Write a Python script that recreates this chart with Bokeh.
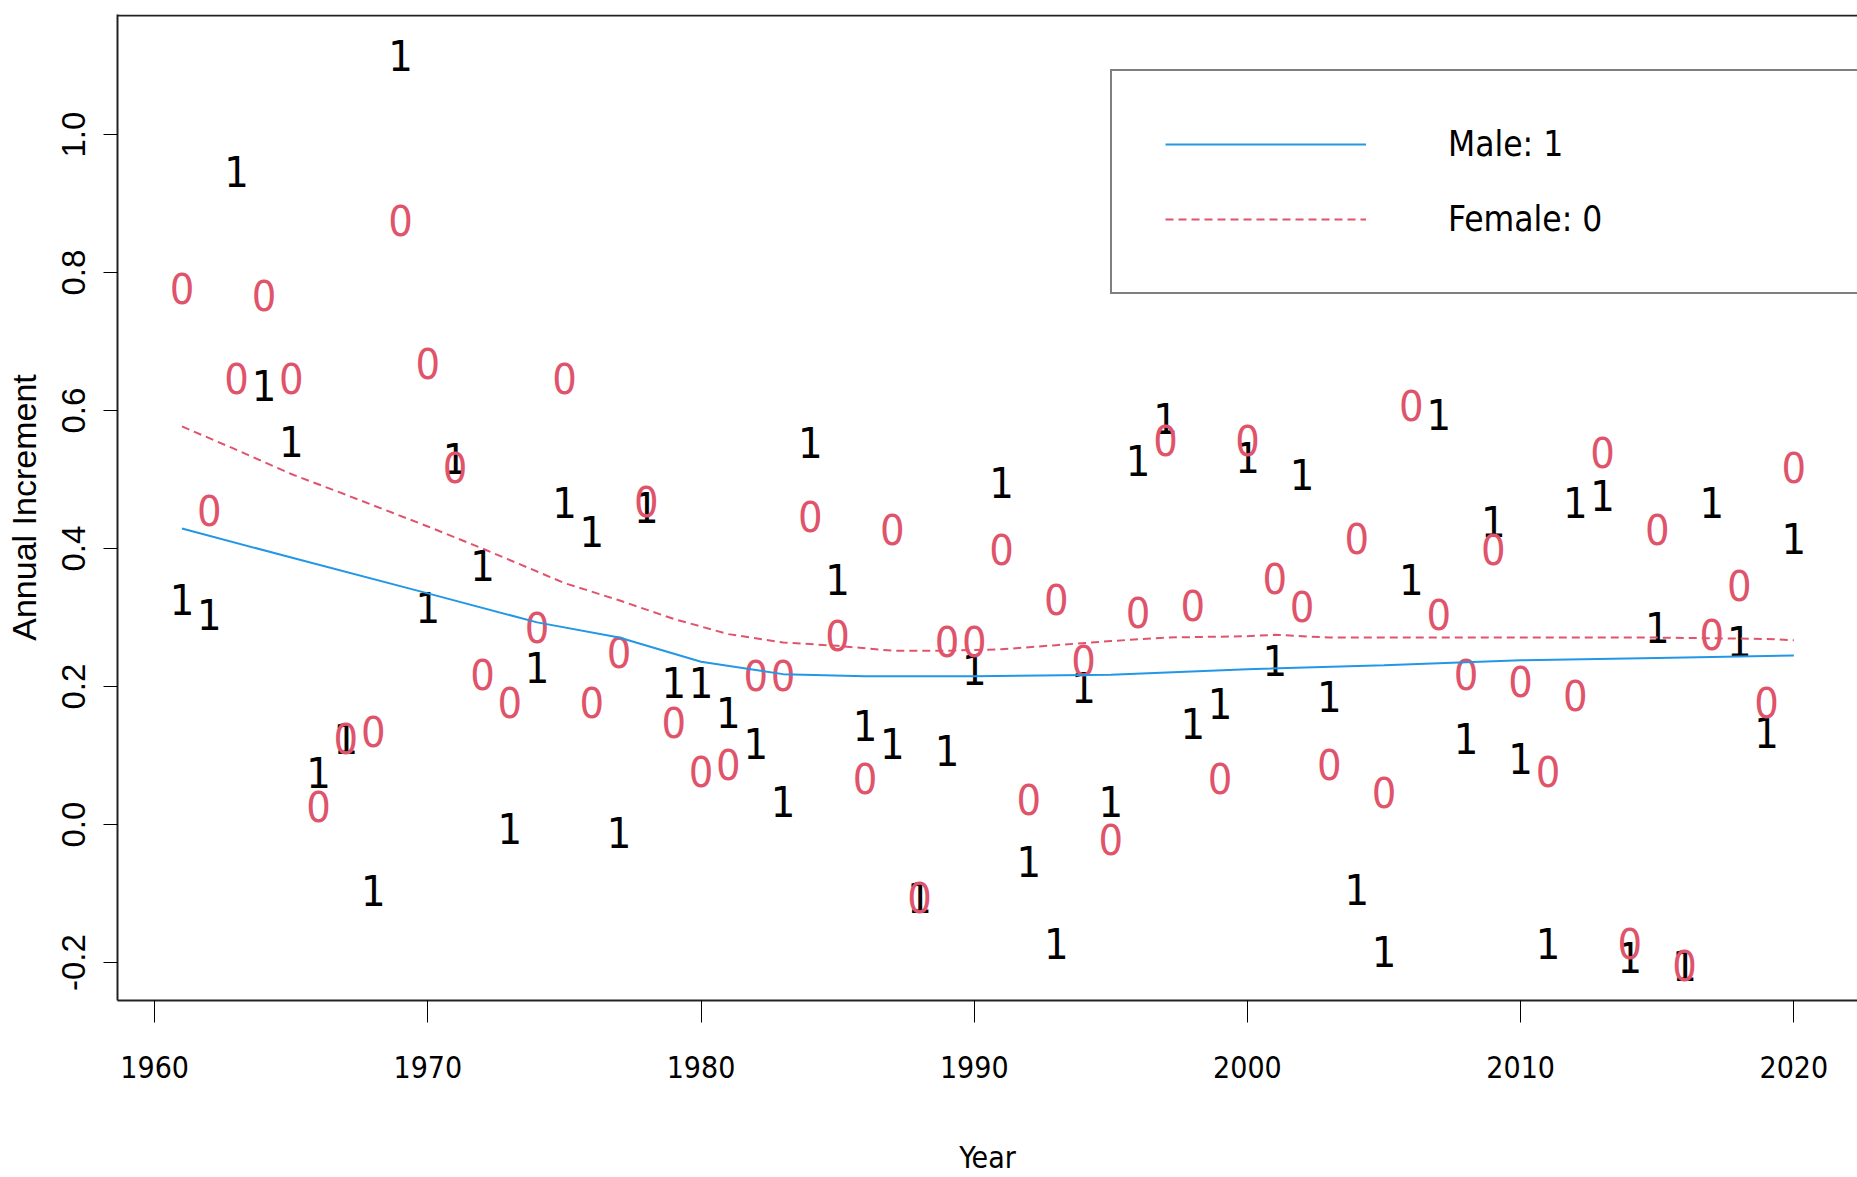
from bokeh.plotting import figure
from bokeh.models import Range1d, Span, Legend, LegendItem, Label, PrintfTickFormatter, FixedTicker, ColumnDataSource
from bokeh.core.properties import value
from bokeh.embed import file_html
from bokeh.resources import INLINE

# ---- data ----
years = list(range(1961, 2021))
male = [0.326, 0.304, 0.947, 0.637, 0.555, 0.076, 0.124, -0.095, 1.114, 0.315,
        0.530, 0.376, -0.006, 0.227, 0.467, 0.425, -0.012, 0.460, 0.206, 0.206,
        0.163, 0.117, 0.034, 0.554, 0.355, 0.144, 0.117, -0.105, 0.108, 0.225,
        0.496, -0.053, -0.173, 0.199, 0.034, 0.528, 0.588, 0.146, 0.175, 0.532,
        0.238, 0.508, 0.185, -0.094, -0.184, 0.355, 0.595, 0.125, 0.439, 0.096,
        -0.173, 0.467, 0.477, -0.192, 0.285, -0.204, 0.467, 0.266, 0.134, 0.415]
female = [0.777, 0.455, 0.647, 0.767, 0.647, 0.026, 0.124, 0.135, 0.876, 0.668,
          0.517, 0.217, 0.177, 0.286, 0.647, 0.177, 0.249, 0.468, 0.148, 0.077,
          0.087, 0.216, 0.216, 0.446, 0.274, 0.067, 0.427, -0.105, 0.266, 0.266,
          0.398, 0.036, 0.326, 0.238, -0.022, 0.307, 0.556, 0.317, 0.067, 0.556,
          0.357, 0.316, 0.087, 0.415, 0.046, 0.607, 0.305, 0.218, 0.398, 0.208,
          0.077, 0.187, 0.539, -0.172, 0.427, -0.204, 0.276, 0.346, 0.177, 0.518]

male_smooth_years = [1961, 1965, 1970, 1974, 1977, 1980, 1983, 1986, 1990, 1995,
                     2000, 2005, 2010, 2015, 2020]
male_smooth = [0.429, 0.387, 0.335, 0.293, 0.271, 0.236, 0.218, 0.215, 0.215, 0.217,
               0.225, 0.231, 0.238, 0.2415, 0.245]

female_smooth_years = [1961, 1963, 1965, 1967, 1970, 1972, 1975, 1977, 1979, 1981,
                       1983, 1985, 1987, 1989, 1991, 1993, 1995, 1997, 2000, 2001,
                       2003, 2010, 2015, 2019, 2020]
female_smooth = [0.577, 0.543, 0.508, 0.478, 0.432, 0.400, 0.350, 0.325, 0.298, 0.276,
                 0.264, 0.259, 0.252, 0.252, 0.254, 0.260, 0.266, 0.271, 0.273, 0.275,
                 0.271, 0.271, 0.271, 0.269, 0.267]

x_ticks = [1960, 1970, 1980, 1990, 2000, 2010, 2020]
y_ticks = [-0.2, 0.0, 0.2, 0.4, 0.6, 0.8, 1.0]

BLUE = "#2297E6"
RED = "#DF536B"
NARROW = "DejaVu Sans Condensed, Liberation Sans, sans-serif"

p = figure(width=1857, height=1177, output_backend="svg", toolbar_location=None,
           x_range=Range1d(1958.64, 2022.33), y_range=Range1d(-0.255, 1.174),
           min_border_left=117, min_border_top=14, min_border_right=0, min_border_bottom=177)
p.grid.visible = False
p.outline_line_color = None
p.background_fill_color = "white"
p.border_fill_color = "white"

src = ColumnDataSource(dict(year=years, male=male, female=female,
                            one=["1"] * len(years), zero=["0"] * len(years)))

p.text(x="year", y="male", text="one", source=src, text_align="center",
       text_baseline="middle", text_font=value(NARROW), text_font_size="43px",
       text_color="black")
p.text(x="year", y="female", text="zero", source=src, text_align="center",
       text_baseline="middle", text_font=value(NARROW), text_font_size="43px",
       text_color=RED)

ml = p.line(male_smooth_years, male_smooth, line_color=BLUE, line_width=2)
fl = p.line(female_smooth_years, female_smooth, line_color=RED, line_width=2,
            line_dash="8 5")

# axes
xa = p.xaxis[0]
xa.ticker = FixedTicker(ticks=x_ticks)
xa.axis_label = "Year"
xa.axis_line_width = 2
xa.axis_line_color = "#222222"
xa.major_tick_out = 22
xa.major_tick_in = 0
xa.minor_tick_out = 0
xa.minor_tick_in = 0
xa.major_tick_line_color = "black"
xa.major_label_standoff = 33
xa.major_label_text_font = NARROW
xa.major_label_text_font_size = "30px"
xa.major_label_text_color = "black"
xa.axis_label_text_font = NARROW
xa.axis_label_text_font_size = "30px"
xa.axis_label_text_font_style = "normal"
xa.axis_label_text_color = "black"
xa.axis_label_standoff = 59

ya = p.yaxis[0]
ya.ticker = FixedTicker(ticks=y_ticks)
ya.formatter = PrintfTickFormatter(format="%.1f")
ya.axis_label = "Annual Increment"
ya.axis_line_width = 2
ya.axis_line_color = "#222222"
ya.major_tick_out = 14
ya.major_tick_in = 0
ya.minor_tick_out = 0
ya.minor_tick_in = 0
ya.major_tick_line_color = "black"
ya.major_label_orientation = "vertical"
ya.major_label_standoff = 18
ya.major_label_text_font = "Liberation Sans"
ya.major_label_text_font_size = "33px"
ya.major_label_text_color = "black"
ya.axis_label_text_font = "Liberation Sans"
ya.axis_label_text_font_size = "34px"
ya.axis_label_text_font_style = "normal"
ya.axis_label_text_color = "black"
ya.axis_label_standoff = 17

# top border of the box
p.add_layout(Span(location=1.1725, dimension="width", line_color="#222222", line_width=2))

legend = Legend(items=[LegendItem(label="Male: 1", renderers=[ml]),
                       LegendItem(label="Female: 0", renderers=[fl])],
                location=(993, 706), border_line_color="black", border_line_width=2,
                padding=53, spacing=35, glyph_width=201, glyph_height=40,
                label_height=40, label_width=500, label_standoff=82,
                label_text_font=NARROW, label_text_font_size="35px",
                label_text_color="black",
                background_fill_color="white", background_fill_alpha=1.0, margin=0)
p.add_layout(legend)

note = Label(x=1386 - 117, y=-152, x_units="screen", y_units="screen",
             text="Note: Abridged Life Table", text_font="Liberation Serif",
             text_font_size="40px", text_color="#3333ff", text_baseline="top")
p.add_layout(note)

open("out.html", "w").write(file_html(p, INLINE))
